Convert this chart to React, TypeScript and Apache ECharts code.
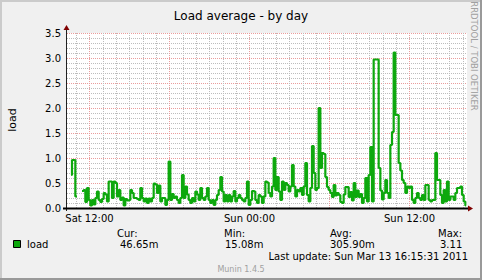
import React, { useEffect, useRef } from 'react';
import * as echarts from 'echarts';

// ---- data ----
const START_HOUR = 10.625; // hours since Sat 00:00 of first sample
const STEP_HOURS = 0.125;
const loadValues: (number | null)[] = [
  0.66, 0.96, 0.96, 0.23, null, null, null, 0.34, 0.36, 0.12,
  0.40, 0.16, 0.05, 0.16, 0.07, 0.20, 0.33, 0.16, 0.12, 0.18,
  0.30, 0.27, 0.13, 0.53, 0.53, 0.20, 0.53, 0.50, 0.23, 0.36,
  0.16, 0.21, 0.05, 0.18, 0.15, 0.16, 0.36, 0.30,
  0.20, 0.20, 0.18, 0.16, 0.40, 0.20, 0.13, 0.19, 0.10, 0.19,
  0.13, 0.20, 0.49, 0.47, 0.30, 0.45, 0.13, 0.20, 0.20, 0.06,
  0.16, 0.93, 0.16, 0.28, 0.20, 0.23, 0.16, 0.10, 0.20, 0.66,
  0.20, 0.43, 0.27, 0.16, 0.10, 0.20, 0.13, 0.33, 0.27, 0.16, 0.40,
  0.20, 0.16, 0.23, 0.40, 0.16, 0.10, 0.16, 0.06, 0.16, 0.26,
  0.36, 0.62, 0.33, 0.13, 0.26, 0.13, 0.26, 0.13, 0.23, 0.34,
  0.13, 0.20, 0.26, 0.20, 0.16, 0.13, 0.20, 0.53, 0.06, 0.16,
  0.34, 0.33, 0.16, 0.10, 0.26, 0.23, 0.10, 0.23, 0.53, 0.51, 0.30,
  0.23, 0.43, 1.00, 0.36, 0.62, 0.33, 0.16, 0.53, 0.36, 0.50,
  0.46, 0.33, 0.43, 0.86, 0.43, 0.23, 0.36, 0.33, 0.40, 0.26,
  0.43, 0.90, 0.26, 0.13, 0.40, 1.24, 0.70, 0.36, 0.40, 2.00,
  0.80, 1.10, 1.08, 0.62, 0.42, 0.36, 0.30, 0.22, 0.46, 0.25,
  0.30, 0.26, 0.12, 0.10, 0.27, 0.42, 0.42, 0.22, 0.32, 0.15,
  0.50, 0.22, 0.35, 0.22, 0.28, 0.10, 0.20, 0.60, 0.13, 0.66,
  1.22, 0.13, 2.97, 2.97, 2.97, 0.80, 0.35, 0.17, 0.30, 0.56,
  0.30, 0.20, 1.26, 1.52, 3.11, 1.86, 1.86, 0.90, 0.75, 0.56, 0.50,
  0.30, 0.43, 0.40, 0.43, 0.16, 0.10, 0.20, 0.30, 0.20, 0.16,
  0.26, 0.16, 0.46, 0.46, 0.16, 0.13, 0.16, 0.16, 1.10, 0.56,
  0.56, 0.26, 0.10, 0.36, 0.13, 0.53, 0.16, 0.23, 0.23, 0.16,
  0.30, 0.40, 0.40, 0.43, 0.26, 0.13, 0.05,
];
const X_MIN_HOUR = 10.3125;
const X_MAX_HOUR = 40.3125;
const labelHours = [12, 24, 36];
const majorGridHours = [12, 18, 24, 30, 36];
const minorGridHours = [
  11, 13, 14, 15, 16, 17, 19, 20, 21, 22, 23, 25, 26, 27, 28, 29,
  31, 32, 33, 34, 35, 37, 38, 39, 40,
];
const legendHeaders = ['Cur:', 'Min:', 'Avg:', 'Max:'];
const legendValues = ['46.65m', '15.08m', '305.90m', '3.11'];
const seriesName = 'load';
const titleText = 'Load average - by day';
const lastUpdate = 'Last update: Sun Mar 13 16:15:31 2011';
const footer = 'Munin 1.4.5';
const watermark = 'RRDTOOL / TOBI OETIKER';

// ---- layout / style ----
const W = 482;
const H = 280;
const GL = 67;
const GT = 33;
const GW = 400;
const GH = 175;
const FONT = 'DejaVu Sans';
const LINE_COLOR = '#0DA80D';

function hourLabel(h: number): string {
  const day = h < 24 ? 'Sat' : 'Sun';
  const hh = h % 24;
  return `${day} ${String(hh).padStart(2, '0')}:00`;
}

export default function App() {
  const ref = useRef<HTMLDivElement>(null);
  useEffect(() => {
    if (!ref.current) return;
    const chart = echarts.init(ref.current, null, { renderer: 'svg' });
    const data = loadValues.map((v, i) => [START_HOUR + i * STEP_HOURS, v]);
    const gridLines = [
      ...minorGridHours.map((h) => ({
        xAxis: h,
        lineStyle: { color: '#BDBDBD', width: 1, type: [1, 1] },
      })),
      ...majorGridHours.map((h) => ({
        xAxis: h,
        lineStyle: { color: '#EB9C9C', width: 1, type: [1, 1] },
      })),
    ];
    const headerX = [117, 224, 330, 438];
    const valueX = [120, 225, 330, 440];
    const graphic: any[] = [
      // frame
      { type: 'line', shape: { x1: 0, y1: 1, x2: W, y2: 1 }, style: { stroke: '#CBCBCB', lineWidth: 2 } },
      { type: 'line', shape: { x1: 1, y1: 0, x2: 1, y2: H }, style: { stroke: '#CBCBCB', lineWidth: 2 } },
      { type: 'line', shape: { x1: 0, y1: H - 1, x2: W, y2: H - 1 }, style: { stroke: '#999999', lineWidth: 2 } },
      { type: 'line', shape: { x1: W - 1, y1: 0, x2: W - 1, y2: H }, style: { stroke: '#999999', lineWidth: 2 } },
      // axes
      { type: 'line', z: 10, shape: { x1: GL - 0.5, y1: GT + GH + 3, x2: GL - 0.5, y2: GT - 4 }, style: { stroke: '#212121', lineWidth: 1 } },
      { type: 'line', z: 10, shape: { x1: GL - 4, y1: GT + GH + 0.5, x2: GL + GW + 2, y2: GT + GH + 0.5 }, style: { stroke: '#000000', lineWidth: 2 } },
      { type: 'polygon', z: 10, shape: { points: [[GL - 3.5, GT - 3], [GL + 2.5, GT - 3], [GL - 0.5, GT - 8]] }, style: { fill: '#800000' } },
      { type: 'polygon', z: 10, shape: { points: [[GL + GW + 1, GT + GH - 2.5], [GL + GW + 1, GT + GH + 3.5], [GL + GW + 6, GT + GH + 0.5]] }, style: { fill: '#800000' } },
      // y axis name
      { type: 'text', x: 12, y: 120, rotation: Math.PI / 2, style: { text: seriesName, font: `11px ${FONT}`, fill: '#000', align: 'center', verticalAlign: 'middle' } },
      // watermark
      { type: 'text', x: 474, y: 56, rotation: -Math.PI / 2, style: { text: watermark, font: `8.5px ${FONT}`, fill: '#A0A0A0', align: 'center', verticalAlign: 'middle' } },
      // legend
      { type: 'rect', shape: { x: 13.5, y: 240.5, width: 7, height: 7 }, style: { fill: LINE_COLOR, stroke: '#000', lineWidth: 1 } },
      { type: 'text', x: 27, y: 244, style: { text: seriesName, font: `10px ${FONT}`, fill: '#000', verticalAlign: 'middle' } },
      ...legendHeaders.map((t, i) => ({
        type: 'text', x: headerX[i], y: 233, style: { text: t, font: `10px ${FONT}`, fill: '#000', verticalAlign: 'middle' },
      })),
      ...legendValues.map((t, i) => ({
        type: 'text', x: valueX[i], y: 244, style: { text: t, font: `10px ${FONT}`, fill: '#000', verticalAlign: 'middle' },
      })),
      { type: 'text', x: 468, y: 256, style: { text: lastUpdate, font: `10px ${FONT}`, fill: '#000', align: 'right', verticalAlign: 'middle' } },
      { type: 'text', x: 241, y: 269, style: { text: footer, font: `8px ${FONT}`, fill: '#A0A0A0', align: 'center', verticalAlign: 'middle' } },
    ];
    chart.setOption({
      animation: false,
      backgroundColor: '#F0F0F0',
      title: {
        text: titleText,
        left: 'center',
        top: 5,
        textStyle: { fontFamily: FONT, fontSize: 12, fontWeight: 'normal', color: '#000' },
      },
      grid: {
        left: GL, top: GT, width: GW, height: GH,
        show: true, backgroundColor: '#FFFFFF', borderWidth: 0,
      },
      xAxis: {
        type: 'value',
        min: X_MIN_HOUR,
        max: X_MAX_HOUR,
        axisLine: { show: false },
        axisTick: { show: false },
        splitLine: { show: false },
        axisLabel: {
          customValues: labelHours,
          formatter: (v: number) => hourLabel(v),
          fontFamily: FONT, fontSize: 10, color: '#000', margin: 5,
        },
      },
      yAxis: {
        type: 'value',
        min: 0,
        max: 3.5,
        interval: 0.5,
        axisLine: { show: false },
        axisTick: { show: false },
        minorTick: { show: false, splitNumber: 5 },
        splitLine: { show: true, lineStyle: { color: '#EB9C9C', width: 1, type: [1, 1] } },
        minorSplitLine: { show: true, lineStyle: { color: '#BDBDBD', width: 1, type: [1, 1] } },
        axisLabel: {
          formatter: (v: number) => v.toFixed(1),
          fontFamily: FONT, fontSize: 10, color: '#000', margin: 6,
        },
      },
      series: [
        {
          name: seriesName,
          type: 'line',
          data,
          step: 'middle',
          showSymbol: false,
          connectNulls: false,
          z: 3,
          lineStyle: { color: LINE_COLOR, width: 2.2 },
          markLine: {
            silent: true,
            symbol: ['none', 'none'],
            label: { show: false },
            z: 1,
            data: gridLines,
          },
        },
      ],
      graphic,
    });
    return () => chart.dispose();
  }, []);
  return (
    <div
      ref={ref}
      style={{ position: 'fixed', left: 0, top: 0, width: W, height: H }}
    />
  );
}
